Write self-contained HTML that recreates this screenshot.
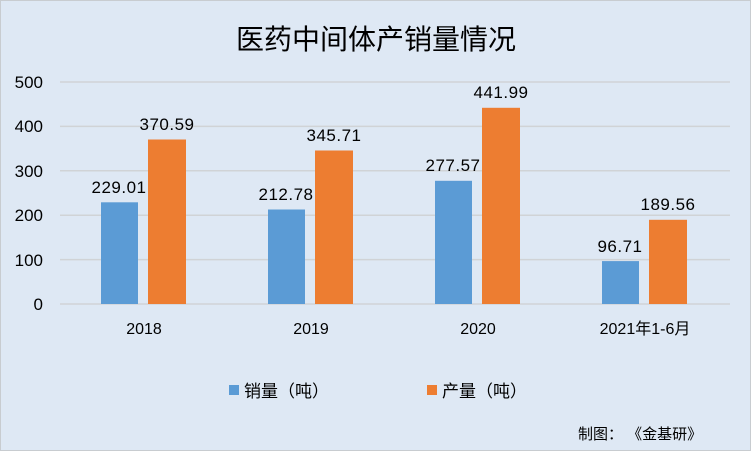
<!DOCTYPE html>
<html><head><meta charset="utf-8"><style>
body{margin:0;width:751px;height:451px;overflow:hidden;background:#fff}
svg{display:block}
text{font-family:"Liberation Sans","Noto Sans CJK SC",sans-serif;fill:#000}
</style></head><body>
<svg width="751" height="451" viewBox="0 0 751 451">
<rect x="0.5" y="0.5" width="750" height="450" fill="#dee8f4" stroke="#c8ccd0"/>
<text x="376" y="49" font-size="28" text-anchor="middle">医药中间体产销量情况</text>
<g stroke="#d0d3d6" stroke-width="1.5">
<line x1="60" x2="730" y1="82" y2="82"/><line x1="60" x2="730" y1="126.4" y2="126.4"/>
<line x1="60" x2="730" y1="170.8" y2="170.8"/><line x1="60" x2="730" y1="215.2" y2="215.2"/>
<line x1="60" x2="730" y1="259.6" y2="259.6"/><line x1="60" x2="730" y1="304" y2="304"/>
</g>
<g font-size="17" text-anchor="end">
<text x="43" y="88">500</text><text x="43" y="132">400</text><text x="43" y="177">300</text>
<text x="43" y="221">200</text><text x="43" y="266">100</text><text x="43" y="310">0</text>
</g>
<g fill="#5b9bd5">
<rect x="101" y="202.3" width="37" height="101.7"/>
<rect x="268" y="209.5" width="37" height="94.5"/>
<rect x="435" y="180.8" width="37" height="123.2"/>
<rect x="602" y="261.1" width="37" height="42.9"/>
</g>
<g fill="#ed7d31">
<rect x="148" y="139.5" width="38" height="164.5"/>
<rect x="315" y="150.5" width="38" height="153.5"/>
<rect x="482" y="107.8" width="38" height="196.2"/>
<rect x="649" y="219.8" width="38" height="84.2"/>
</g>
<g font-size="17" text-anchor="middle" letter-spacing="0.5">
<text x="119" y="193">229.01</text><text x="167" y="130">370.59</text>
<text x="286" y="200">212.78</text><text x="334" y="141">345.71</text>
<text x="453" y="171">277.57</text><text x="501" y="98">441.99</text>
<text x="620" y="252">96.71</text><text x="668" y="210">189.56</text>
</g>
<g font-size="16" text-anchor="middle">
<text x="144" y="334">2018</text><text x="311" y="334">2019</text>
<text x="478" y="334">2020</text><text x="645" y="334">2021年1-6月</text>
</g>
<rect x="229" y="385" width="10" height="10" fill="#5b9bd5"/>
<text x="244" y="397" font-size="17">销量（吨）</text>
<rect x="427" y="385" width="10" height="10" fill="#ed7d31"/>
<text x="442" y="397" font-size="17">产量（吨）</text>
<text x="578" y="439" font-size="15">制图： 《金基研》</text>
</svg>
</body></html>
